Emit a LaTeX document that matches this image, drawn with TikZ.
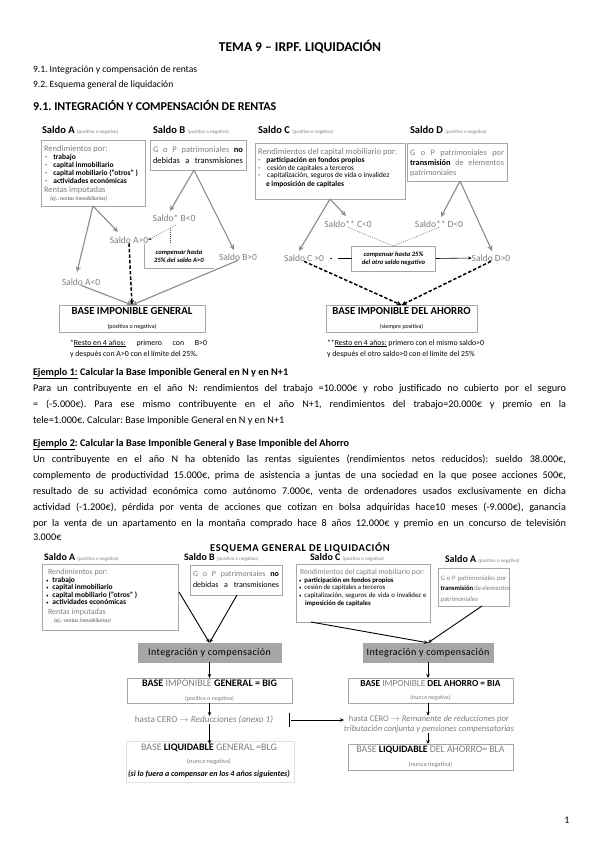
\documentclass[tikz,border=0pt]{standalone}
\usepackage{fontspec}
\setmainfont{Carlito}
\usetikzlibrary{arrows.meta}
\definecolor{tg}{HTML}{7F7F7F}
\definecolor{bg}{HTML}{A6A6A6}
\definecolor{ag}{HTML}{8A8A8A}
\definecolor{fillg}{HTML}{A6A6A6}
\newcommand\myfs[1]{\fontsize{#1}{#1}\selectfont}
\newcommand\jl[2]{\makebox[#1pt][s]{#2}}
\begin{document}
\frenchspacing
\begin{tikzpicture}[x=1pt,y=-1pt,
  txt/.style={inner sep=0pt,outer sep=0pt},
  bx/.style={draw=bg,line width=0.6pt,inner sep=0pt,outer sep=0pt},
  garrow/.style={draw=ag,line width=1.1pt,-{Stealth[length=5.5pt,width=5pt]}},
  darr/.style={draw=black,line width=1.5pt,dash pattern=on 3.5pt off 2pt,-{Stealth[length=5pt,width=4.5pt]}},
  dotl/.style={draw=black!70,line width=0.5pt,dash pattern=on 0.8pt off 1.2pt},
  barr/.style={draw=black,line width=0.9pt,-{Stealth[length=4pt,width=3.5pt]}},
  lab/.style={txt,text=tg,font=\myfs{9.5}},
  body/.style={txt,anchor=base west,font=\myfs{10.2}}
]
\useasboundingbox (0,0) rectangle (599,848);
\fill[white] (0,0) rectangle (599,848);

% ---------- header ----------
\node[txt,anchor=base] (title) at (300,52) {\myfs{13.5}\bfseries TEMA 9 – IRPF. LIQUIDACIÓN};
\node[txt,anchor=base west] (i1) at (33,73) {\myfs{9.6}9.1. Integración y compensación de rentas};
\node[txt,anchor=base west] (i2) at (33,88) {\myfs{9.6}9.2. Esquema general de liquidación};
\node[txt,anchor=base west] (h1) at (33,111) {\myfs{12}\bfseries 9.1. INTEGRACIÓN Y COMPENSACIÓN DE RENTAS};

% ---------- diagram 1 ----------
\node[txt,anchor=base west] (lA) at (42,134) {\myfs{10.5}\textbf{Saldo A} {\myfs{5}\color{tg}(positivo o negativo)}};
\node[txt,anchor=base west] (lB) at (153,134) {\myfs{10.5}\textbf{Saldo B} {\myfs{5}\color{tg}(positivo o negativo)}};
\node[txt,anchor=base west] (lC) at (258,134) {\myfs{10.5}\textbf{Saldo C} {\myfs{5}\color{tg}(positivo o negativo)}};
\node[txt,anchor=base west] (lD) at (410,134) {\myfs{10.5}\textbf{Saldo D} {\myfs{5}\color{tg}(positivo o negativo)}};

% box A
\node[bx,anchor=north west,minimum width=104,minimum height=66] (bA) at (41,140) {};
\node[txt,anchor=base west,text=tg] (a0) at (44,151) {\myfs{8.5}Rendimientos por:};
\node[txt,anchor=base west] (a1) at (45,159) {\myfs{7.5}-\hspace{6pt}\textbf{trabajo}};
\node[txt,anchor=base west] (a2) at (45,167) {\myfs{7.5}-\hspace{6pt}\textbf{capital inmobiliario}};
\node[txt,anchor=base west] (a3) at (45,175) {\myfs{7.5}-\hspace{6pt}\textbf{capital mobiliario ("otros" )}};
\node[txt,anchor=base west] (a4) at (45,183) {\myfs{7.5}-\hspace{6pt}\textbf{actividades económicas}};
\node[txt,anchor=base west,text=tg] (a5) at (44,192.5) {\myfs{8.5}Rentas imputadas};
\node[txt,anchor=base west,text=tg] (a6) at (50,200) {\myfs{5.5}\bfseries\itshape (ej.: rentas inmobiliarias)};

% box B
\node[bx,anchor=north west,minimum width=96,minimum height=30] (bB) at (150,140) {};
\node[txt,anchor=base west] (b1) at (153,153) {\myfs{8.5}\jl{90}{\color{tg}G o P patrimoniales \textcolor{black}{\textbf{no}}}};
\node[txt,anchor=base west] (b2) at (153,163.5) {\myfs{8.5}\jl{90}{debidas a transmisiones}};

% box C
\node[bx,anchor=north west,minimum width=150,minimum height=56] (bC) at (255,143) {};
\node[txt,anchor=base west,text=tg] (c0) at (258,154.5) {\myfs{8.6}Rendimientos del capital mobiliario por:};
\node[txt,anchor=base west] (c1) at (258,162.5) {\myfs{7.5}-\hspace{6pt}\textbf{participación en fondos propios}};
\node[txt,anchor=base west] (c2) at (258,170) {\myfs{7.3}-\hspace{7pt}cesión de capitales a terceros};
\node[txt,anchor=base west] (c3) at (258,177.5) {\myfs{7.3}-\hspace{7pt}capitalización, seguros de vida o invalidez};
\node[txt,anchor=base west] (c4) at (266,186) {\myfs{7.5}\textbf{e imposición de capitales}};

% box D
\node[bx,anchor=north west,minimum width=100,minimum height=38] (bD) at (407,143) {};
\node[txt,anchor=base west] (d1) at (410,155) {\myfs{8.3}\jl{94}{\color{tg}G o P patrimoniales por}};
\node[txt,anchor=base west] (d2) at (410,165) {\myfs{8.3}\jl{94}{\textbf{transmisión} \textcolor{tg}{de elementos}}};
\node[txt,anchor=base west,text=tg] (d3) at (410,175) {\myfs{8.3}patrimoniales};

% saldo labels
\node[lab] (sApos) at (129,240) {Saldo A>0};
\node[lab] (sBneg) at (174,218) {Saldo* B<0};
\node[lab] (sBpos) at (238,257) {Saldo B>0};
\node[lab] (sAneg) at (81,282) {Saldo A<0};
\node[lab] (sCneg) at (348,224) {Saldo** C<0};
\node[lab] (sDneg) at (439,224) {Saldo** D<0};
\node[lab] (sCpos) at (304,258) {Saldo C >0};
\node[lab] (sDpos) at (491,258) {Saldo D>0};

% compensation boxes
\node[txt,align=center,minimum width=70,minimum height=24,font=\myfs{6.6}\bfseries\itshape] (comp1) at (179,256) {compensar hasta\\[1.5pt]25\% del saldo A>0};
\draw[draw=bg,line width=0.5pt] (comp1.north west) -- (comp1.south west) -- (comp1.south east);
\node[bx,align=center,minimum width=84,minimum height=25,font=\myfs{6.6}\bfseries\itshape] (comp2) at (393.5,258.5) {compensar hasta 25\%\\[1.5pt]del otro saldo negativo};

% apex coordinates and arrow tips
\coordinate (apA) at (93,206);
\coordinate (apB) at (194,170);
\coordinate (apC) at (330,199);
\coordinate (apD) at (460,181);
\coordinate (tA1) at (77,272);
\coordinate (tA2) at (118,232);
\coordinate (tB1) at (170,211);
\coordinate (tB2) at (234,250);
\coordinate (tC1) at (346,216);
\coordinate (tC2) at (299,251);
\coordinate (tD1) at (441,217);
\coordinate (tD2) at (492,251);

\draw[garrow] (apA) -- (tA1);
\draw[garrow] (apA) -- (tA2);
\draw[garrow] (apB) -- (tB1);
\draw[garrow] (apB) -- (tB2);
\draw[garrow] (apC) -- (tC1);
\draw[garrow] (apC) -- (tC2);
\draw[garrow] (apD) -- (tD1);
\draw[garrow] (apD) -- (tD2);

% dotted connectors
\coordinate (dB) at (176,225);
\draw[dotl,-{Stealth[length=3.5pt,width=3pt]}] (dB) -- (sApos.east) coordinate[pos=0.2] (dm);
\draw[dotl] (dm) -- (dm |- comp1.north);
\draw[dotl] (sCneg.south) -- (comp2.north);
\draw[dotl] (sDneg.south) -- (comp2.north);
\node[circle,fill=black,inner sep=0pt,minimum size=1.6pt] (dot) at (331,258.5) {};
\draw[black,line width=0.6pt,shorten <=6pt] (dot) -- (comp2.west);
\draw[black,line width=0.6pt,-{Stealth[length=3.5pt,width=3pt]}] (comp2.east) -- (sDpos.west);

% base boxes
\node[bx,align=center,minimum width=146,minimum height=27] (big) at (132,318.5) {{\myfs{10.8}\bfseries BASE IMPONIBLE GENERAL}\\[1.5pt]{\myfs{6}(positiva o negativa)}};
\node[bx,align=center,minimum width=151,minimum height=27] (bia) at (401.5,318.5) {{\myfs{10.8}\bfseries BASE IMPONIBLE DEL AHORRO}\\[1.5pt]{\myfs{6}(siempre positiva)}};

\draw[garrow] (sAneg.south) -- (big.north);
\draw[garrow] (sBpos.south) -- (big.north);
\draw[darr] (sApos.south) -- (big.north);
\draw[darr] (sCpos.south) -- (bia.north);
\draw[darr] (sDpos.south) -- (bia.north);

% footnotes
\node[txt,anchor=base west] (f1a) at (70,345) {\myfs{7.8}\jl{137}{*\underline{Resto en 4 años:} primero con B>0}};
\node[txt,anchor=base west] (f1b) at (70,356) {\myfs{7.8}y después con A>0 con el límite del 25\%.};
\node[txt,anchor=base west] (f2a) at (327,345) {\myfs{7.8}**\underline{Resto en 4 años:} primero con el mismo saldo>0};
\node[txt,anchor=base west] (f2b) at (327,356) {\myfs{7.8}y después el otro saldo>0 con el límite del 25\%};

% ---------- examples ----------
\node[body] (e1h) at (33,375) {\bfseries\underline{Ejemplo 1:} Calcular la Base Imponible General en N y en N+1};
\node[body] (e1a) at (33,391) {\jl{533}{Para un contribuyente en el año N: rendimientos del trabajo =10.000€ y robo justificado no cubierto por el seguro}};
\node[body] (e1b) at (33,407) {\jl{533}{= (-5.000€). Para ese mismo contribuyente en el año N+1, rendimientos del trabajo=20.000€ y premio en la}};
\node[body] (e1c) at (33,423) {tele=1.000€. Calcular: Base Imponible General en N y en N+1};

\node[body] (e2h) at (33,446) {\bfseries\underline{Ejemplo 2}: Calcular la Base Imponible General y Base Imponible del Ahorro};
\node[body] (e2a) at (33,462) {\jl{533}{Un contribuyente en el año N ha obtenido las rentas siguientes (rendimientos netos reducidos): sueldo 38.000€,}};
\node[body] (e2b) at (33,478) {\jl{533}{complemento de productividad 15.000€, prima de asistencia a juntas de una sociedad en la que posee acciones 500€,}};
\node[body] (e2c) at (33,494) {\jl{533}{resultado de su actividad económica como autónomo 7.000€, venta de ordenadores usados exclusivamente en dicha}};
\node[body] (e2d) at (33,510) {\jl{533}{actividad (-1.200€), pérdida por venta de acciones que cotizan en bolsa adquiridas hace10 meses (-9.000€), ganancia}};
\node[body] (e2e) at (33,526) {\jl{533}{por la venta de un apartamento en la montaña comprado hace 8 años 12.000€ y premio en un concurso de televisión}};
\node[body] (e2f) at (33,540) {3.000€};

% ---------- diagram 2 ----------
\node[txt,anchor=base] (t2) at (300,551) {\myfs{10.5}\bfseries\addfontfeatures{LetterSpace=6}ESQUEMA GENERAL DE LIQUIDACIÓN};
\node[txt,anchor=base west] (mA) at (44,560) {\myfs{10}\textbf{Saldo A} {\myfs{5}\color{tg}(positivo o negativo)}};
\node[txt,anchor=base west] (mB) at (184,560) {\myfs{10}\textbf{Saldo B} {\myfs{5}\color{tg}(positivo o negativo)}};
\node[txt,anchor=base west] (mC) at (310,560) {\myfs{10}\textbf{Saldo C} {\myfs{5}\color{tg}(positivo o negativo)}};
\node[txt,anchor=base west] (mD) at (445,562) {\myfs{10}\textbf{Saldo A} {\myfs{5}\color{tg}(positivo o negativo)}};

% box A2
\node[bx,anchor=north west,minimum width=136,minimum height=66] (bA2) at (42,564) {};
\node[txt,anchor=base west,text=tg] (p0) at (48,574) {\myfs{8}Rendimientos por:};
\node[txt,anchor=base west] (p1) at (46,582) {\myfs{7.5}{\myfs{5}•}\hspace{4pt}\textbf{trabajo}};
\node[txt,anchor=base west] (p2) at (46,589.5) {\myfs{7.5}{\myfs{5}•}\hspace{4pt}\textbf{capital inmobiliario}};
\node[txt,anchor=base west] (p3) at (46,597) {\myfs{7.5}{\myfs{5}•}\hspace{4pt}\textbf{capital mobiliario ("otros" )}};
\node[txt,anchor=base west] (p4) at (46,604.5) {\myfs{7.5}{\myfs{5}•}\hspace{4pt}\textbf{actividades económicas}};
\node[txt,anchor=base west,text=tg] (p5) at (48,614) {\myfs{8}Rentas imputadas};
\node[txt,anchor=base west,text=tg] (p6) at (54,622) {\myfs{5.5}\bfseries\itshape (ej.: rentas inmobiliarias)};

% box B2
\node[bx,anchor=north west,minimum width=92,minimum height=30] (bB2) at (190,565) {};
\node[txt,anchor=base west] (q1) at (193,576) {\myfs{8}\jl{86}{\color{tg}G o P patrimoniales \textcolor{black}{\textbf{no}}}};
\node[txt,anchor=base west] (q2) at (193,587) {\myfs{8}\jl{86}{debidas a transmisiones}};

% box C2
\node[bx,anchor=north west,minimum width=134,minimum height=58] (bC2) at (296,564) {};
\node[txt,anchor=base west,text=tg] (r0) at (300,574) {\myfs{7.7}Rendimientos del capital mobiliario por:};
\node[txt,anchor=base west] (r1) at (299,582) {\myfs{6.8}{\myfs{5}•}\hspace{3pt}\textbf{participación en fondos propios}};
\node[txt,anchor=base west] (r2) at (299,589.5) {\myfs{6.8}{\myfs{5}•}\hspace{3pt}cesión de capitales a terceros};
\node[txt,anchor=base west] (r3) at (299,597) {\myfs{6.8}{\myfs{5}•}\hspace{3pt}\jl{122}{capitalización, seguros de vida o invalidez e}};
\node[txt,anchor=base west] (r4) at (305,605) {\myfs{6.8}\textbf{imposición de capitales}};

% box D2
\node[bx,anchor=north west,minimum width=71,minimum height=38] (bD2) at (438,568) {};
\node[txt,anchor=base west] (s1) at (440.5,580) {\myfs{6.7}\jl{66}{\color{tg}G o P patrimoniales por}};
\node[txt,anchor=base west] (s2) at (440.5,590.5) {\myfs{6.7}\jl{66}{\textbf{transmisión} \textcolor{tg}{de elementos}}};
\node[txt,anchor=base west,text=tg] (s3) at (440.5,601) {\myfs{6.7}patrimoniales};

% integration boxes
\node[draw=bg,fill=fillg,minimum width=143,minimum height=19,inner sep=0pt,font=\myfs{10}\addfontfeatures{LetterSpace=4}] (ig1) at (209.5,652.5) {Integración y compensación};
\node[draw=bg,fill=fillg,minimum width=130,minimum height=19,inner sep=0pt,font=\myfs{10}\addfontfeatures{LetterSpace=4}] (ig2) at (428,652.5) {Integración y compensación};

\coordinate (v1) at (179,592);
\coordinate (v2) at (237,595);
\coordinate (v3) at (311,622);
\coordinate (v4) at (482,606);
\draw[barr] (v1) -- (ig1.north);
\draw[barr] (v2) -- (ig1.north);
\draw[barr] (v3) -- (ig2.north);
\draw[barr] (v4) -- (ig2.north);

% left column
\node[bx,align=center,minimum width=165,minimum height=25] (big2) at (209.5,690.5) {{\myfs{10}\bfseries BASE \textcolor{tg}{\mdseries IMPONIBLE} GENERAL = BIG}\\[1.5pt]{\myfs{6}\color{tg}(positiva o negativa)}};
\node[txt,text=tg,font=\myfs{9.2}] (h1l) at (204,720) {hasta CERO $\rightarrow$ \textit{Reducciones (anexo 1)}};
\node[txt,align=center] (blg) at (209,761) {{\myfs{10}\color{tg}BASE \textcolor{black}{\bfseries LIQUIDABLE} GENERAL =BLG}\\[1pt]{\myfs{6.5}\color{tg}(nunca negativa)}\\[1pt]{\myfs{8}\bfseries\itshape (si lo fuera a compensar en los 4 años siguientes)}};
\draw[draw=black!12,line width=0.5pt] (126,741) rectangle (294,782);
\coordinate (tk) at (289,720);
\draw[black,line width=0.5pt] (289,713) -- (289,727);

\draw[barr] (ig1.south -| big2.north) -- (big2.north);
\draw[barr] (big2.south) -- (big2.south |- h1l.north);
\draw[barr] (big2.south |- h1l.south) -- (big2.south |- blg.north);

% right column
\node[bx,align=center,minimum width=165,minimum height=25] (bia2) at (430.5,690.5) {{\myfs{9.3}\bfseries BASE \textcolor{tg}{\mdseries IMPONIBLE} DEL AHORRO = BIA}\\[1.5pt]{\myfs{6}\color{tg}(nunca negativa)}};
\node[txt,align=center,text=tg,font=\myfs{8.6}] (h2l) at (429,724.5) {hasta CERO $\rightarrow$ \textit{Remanente de reducciones por}\\[1.5pt]\textit{tributación conjunta y pensiones compensatorias}};
\node[bx,align=center,minimum width=165,minimum height=26] (bla) at (430.5,757) {{\myfs{9.8}\color{tg}BASE \textcolor{black}{\bfseries LIQUIDABLE} DEL AHORRO= BLA}\\[1.5pt]{\myfs{6.5}\color{tg}(nunca negativa)}};

\draw[barr] (ig2.south) -- (ig2.south |- bia2.north);
\draw[barr] (ig2.south |- bia2.south) -- (ig2.south |- h2l.north);
\draw[barr] (ig2.south |- h2l.south) -- (ig2.south |- bla.north);
\draw[barr] (tk) ++(2,0) coordinate (tk2) (tk2) -- (tk2 -| h2l.west);

% page number
\node[txt,anchor=base] (pg) at (567,823) {\myfs{10}1};
\end{tikzpicture}
\end{document}
